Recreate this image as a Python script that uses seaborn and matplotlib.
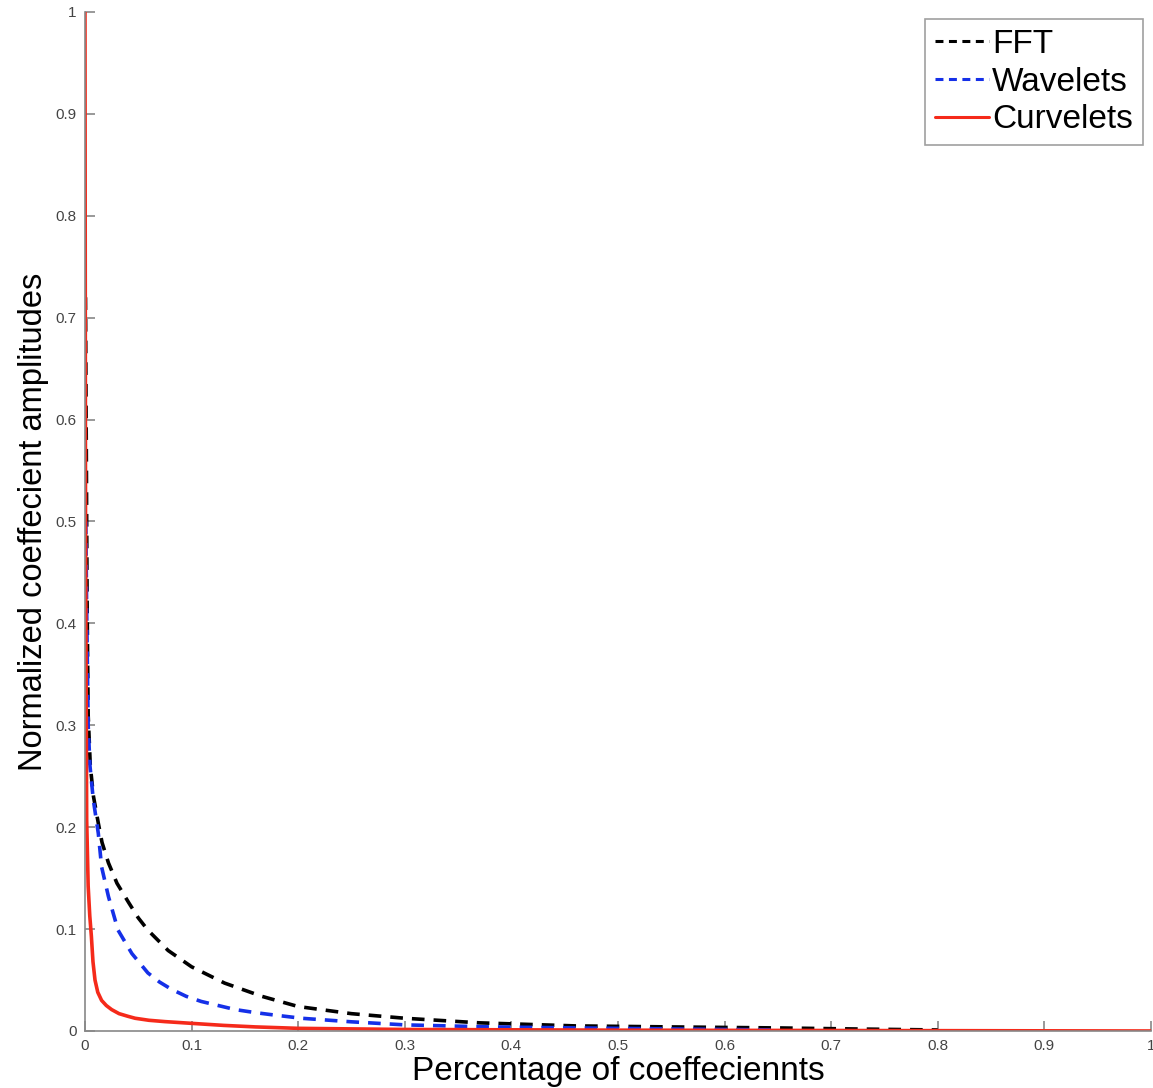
import matplotlib
matplotlib.use("Agg")
import matplotlib.pyplot as plt
import seaborn as sns
import pandas as pd

# Data
fft_x = [0.0005, 0.0015, 0.002, 0.003, 0.005, 0.008, 0.0125, 0.016, 0.022, 0.03, 0.041, 0.05, 0.059,
         0.078, 0.1, 0.131, 0.166, 0.2, 0.25, 0.3, 0.37, 0.46, 0.55, 0.65, 0.72, 0.8]
fft_y = [0.72, 0.52, 0.42, 0.31, 0.26, 0.23, 0.204, 0.185, 0.165, 0.145, 0.126, 0.111, 0.099,
         0.079, 0.063, 0.047, 0.034, 0.024, 0.017, 0.0125, 0.008, 0.005, 0.004, 0.003, 0.002, 0.001]

wav_x = [0.0008, 0.0015, 0.003, 0.0047, 0.0078, 0.0125, 0.0156, 0.022, 0.031, 0.044, 0.059, 0.07, 0.081,
         0.095, 0.109, 0.125, 0.141, 0.16, 0.175, 0.203, 0.25, 0.3, 0.38, 0.46, 0.55, 0.65]
wav_y = [0.5, 0.42, 0.3, 0.26, 0.227, 0.194, 0.161, 0.132, 0.099, 0.076, 0.057, 0.048, 0.041,
         0.034, 0.029, 0.025, 0.021, 0.018, 0.016, 0.0125, 0.009, 0.006, 0.004, 0.003, 0.002, 0.001]

cur_x = [0, 0.0005, 0.0016, 0.003, 0.0045, 0.006, 0.0075, 0.0094, 0.012, 0.0156, 0.02, 0.025, 0.032,
         0.04, 0.047, 0.06, 0.075, 0.1, 0.13, 0.16, 0.2, 0.3, 0.5, 1.0]
cur_y = [1.0, 0.5, 0.207, 0.142, 0.113, 0.093, 0.068, 0.05, 0.038, 0.03, 0.025, 0.021, 0.017,
         0.0145, 0.0125, 0.0105, 0.0092, 0.0075, 0.0055, 0.004, 0.0026, 0.0015, 0.0008, 0.0]

series = ["FFT", "Wavelets", "Curvelets"]
ticks = [0, 0.1, 0.2, 0.3, 0.4, 0.5, 0.6, 0.7, 0.8, 0.9, 1]
tick_labels = ["0", "0.1", "0.2", "0.3", "0.4", "0.5", "0.6", "0.7", "0.8", "0.9", "1"]

sns.set_style("white")
plt.rcParams['font.family'] = ['Liberation Sans', 'DejaVu Sans']
plt.rcParams['text.color'] = 'black'
plt.rcParams['axes.labelcolor'] = 'black'

fig = plt.figure(figsize=(11.53, 10.88), dpi=100)
ax = fig.add_axes([0.0737, 0.0524, 0.9245, 0.9366])

df_f = pd.DataFrame({"x": fft_x, "y": fft_y})
df_w = pd.DataFrame({"x": wav_x, "y": wav_y})
df_c = pd.DataFrame({"x": cur_x, "y": cur_y})

sns.lineplot(data=df_f, x="x", y="y", ax=ax, color="black", lw=2.6, sort=False,
             estimator=None, label=series[0])
ax.lines[-1].set_dashes([3.5, 2.5])
sns.lineplot(data=df_w, x="x", y="y", ax=ax, color="#1530e8", lw=2.6, sort=False,
             estimator=None, label=series[1])
ax.lines[-1].set_dashes([3.5, 2.5])
sns.lineplot(data=df_c, x="x", y="y", ax=ax, color="#f52a1a", lw=2.6, sort=False,
             estimator=None, label=series[2])

ax.set_xlim(0, 1)
ax.set_ylim(0, 1)
ax.set_xticks(ticks)
ax.set_xticklabels(tick_labels)
ax.set_yticks(ticks)
ax.set_yticklabels(tick_labels)

for s in ["top", "right"]:
    ax.spines[s].set_visible(False)
for s in ["left", "bottom"]:
    ax.spines[s].set_color("#888888")
    ax.spines[s].set_linewidth(1.2)
ax.tick_params(direction="in", length=7, width=1.2, color="#888888",
               labelsize=11, labelcolor="#444444", pad=6,
               bottom=True, left=True)

ax.set_xlabel("Percentage of coeffeciennts", fontsize=24, labelpad=2)
ax.set_ylabel("Normalized coeffecient amplitudes", fontsize=23.5, labelpad=5)

leg = ax.legend(loc="upper right", fontsize=24, frameon=True, fancybox=False,
                handlelength=1.6, handletextpad=0.1, borderpad=0.3,
                labelspacing=0.2, borderaxespad=0,
                bbox_to_anchor=(1143 / 1153, 1 - 19 / 1088),
                bbox_transform=fig.transFigure)
leg.get_frame().set_edgecolor("#888888")
leg.get_frame().set_linewidth(1.2)
for h in leg.get_lines():
    h.set_linewidth(2.2)
leg.get_lines()[0].set_dashes([2.6, 1.8])
leg.get_lines()[1].set_dashes([2.6, 1.8])

fig.savefig("out.png", dpi=100)
